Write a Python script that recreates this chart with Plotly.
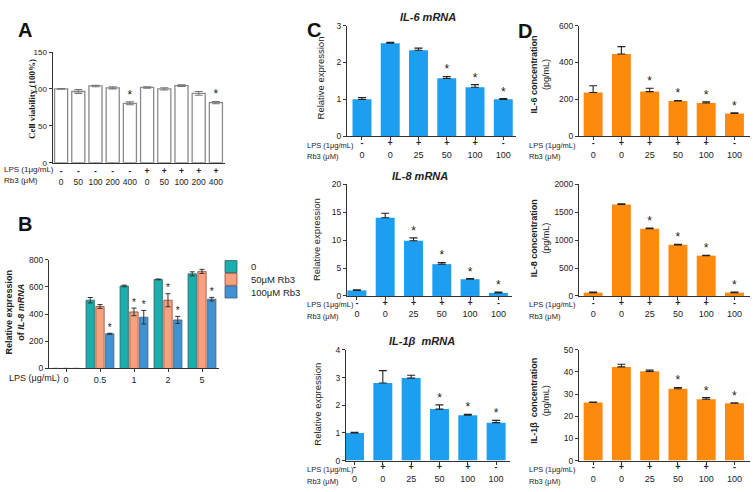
import plotly.graph_objects as go

W, H = 753, 492
def fx(p): return p / W
def fy(p): return 1 - p / H

FONT = "Arial, Liberation Sans, sans-serif"
TXT = "#222222"

# ---------------- Panel A data ----------------
A_lps = ["-", "-", "-", "-", "-", "+", "+", "+", "+", "+"]
A_rb3 = ["0", "50", "100", "200", "400", "0", "50", "100", "200", "400"]
A_val = [100, 96.5, 104, 101.5, 80.5, 102, 100, 104.5, 94, 81.5]
A_err = [0.5, 2.5, 1, 1.5, 2, 1, 1.5, 1, 2.5, 1.5]
A_sig = [0, 0, 0, 0, 1, 0, 0, 0, 0, 1]

# ---------------- Panel B data ----------------
B_lps = ["0", "0.5", "1", "2", "5"]
B_series = ["0", "50μM Rb3", "100μM Rb3"]
B_ctrl = [0, 502, 607, 655, 696]
B_ctrl_err = [0, 20, 6, 3, 15]
B_r50 = [0, 456, 416, 502, 714]
B_r50_err = [0, 14, 28, 48, 15]
B_r100 = [0, 255, 377, 357, 510]
B_r100_err = [0, 4, 50, 26, 13]
B_ctrl_sig = [0, 0, 0, 0, 0]
B_r50_sig = [0, 0, 1, 1, 0]
B_r100_sig = [0, 1, 1, 1, 1]

# ---------------- Panels C / D shared labels ----------------
CD_lps = ["-", "+", "+", "+", "+", "-"]
CD_rb3 = ["0", "0", "25", "50", "100", "100"]

C1_val = [1.0, 2.52, 2.33, 1.57, 1.33, 1.0]
C1_err = [0.05, 0.03, 0.06, 0.05, 0.07, 0.02]
C1_sig = [0, 0, 0, 1, 1, 1]

C2_val = [1.0, 14.0, 9.9, 5.7, 3.0, 0.55]
C2_err = [0.1, 0.8, 0.5, 0.3, 0.1, 0.15]
C2_sig = [0, 0, 1, 1, 1, 1]

C3_val = [1.0, 2.8, 2.98, 1.86, 1.64, 1.37]
C3_err = [0.02, 0.45, 0.1, 0.15, 0.03, 0.08]
C3_sig = [0, 0, 0, 1, 1, 1]

D1_val = [237, 446, 242, 191, 180, 124]
D1_err = [37, 40, 18, 3, 7, 3]
D1_sig = [0, 0, 1, 1, 1, 1]

D2_val = [60, 1640, 1205, 915, 722, 60]
D2_err = [8, 10, 10, 8, 6, 8]
D2_sig = [0, 0, 1, 1, 1, 1]

D3_val = [26.2, 42.3, 40.3, 32.4, 27.7, 25.9]
D3_err = [0.2, 1.2, 0.6, 0.6, 0.7, 0.2]
D3_sig = [0, 0, 0, 1, 1, 1]

# ---------------- styles ----------------
C_BLUE = "#1c9ff0"
D_ORANGE = "#fd8a0c"
B_COLORS = ["#1aafac", "#f7a17f", "#3f93d4"]
B_LINES = ["#2f5f5e", "#8a4a38", "#4a5d6e"]

fig = go.Figure()


def idx(n):
    return list(range(n))


def axis_pair(n, xpx, ypx, xr, yr, ytv, lps, rb3, xfont=9, yfont=8.5, ticklen=3, standoff=0):
    sx = "" if n == 1 else str(n)
    ticktext = [f"<b>{a}</b><br>{b}" for a, b in zip(lps, rb3)] if rb3 else list(lps)
    fig.update_layout(**{
        "xaxis" + sx: dict(domain=[fx(xpx[0]), fx(xpx[1])], range=xr, anchor="y" + sx,
                           showline=True, linecolor="#333", linewidth=1, ticks="outside" if ticklen else "",
                           ticklen=ticklen, tickcolor="#333", tickvals=idx(len(lps)), ticktext=ticktext,
                           ticklabelstandoff=standoff,
                           tickfont=dict(size=xfont, color=TXT, family=FONT), showgrid=False,
                           zeroline=False, fixedrange=True),
        "yaxis" + sx: dict(domain=[fy(ypx[0]), fy(ypx[1])], range=yr, anchor="x" + sx,
                           showline=True, linecolor="#333", linewidth=1, ticks="outside", ticklen=3,
                           tickcolor="#333", tickvals=ytv,
                           tickfont=dict(size=yfont, color=TXT, family=FONT), showgrid=False,
                           zeroline=False, fixedrange=True),
    })


def simple_bars(n, vals, errs, sigs, color, line_color, line_w, width, err_color, two_sided,
                star_size=12):
    sx = "" if n == 1 else str(n)
    x = idx(len(vals))
    fig.add_trace(go.Bar(
        x=x, y=vals, width=width, marker=dict(color=color, line=dict(color=line_color, width=line_w)),
        error_y=dict(type="data", array=errs, arrayminus=errs if two_sided else [0] * len(errs),
                     symmetric=False, color=err_color, thickness=1.1, width=4),
        xaxis="x" + sx, yaxis="y" + sx, showlegend=False, hoverinfo="skip"))
    fig.add_trace(go.Scatter(
        x=x, y=[v + e for v, e in zip(vals, errs)], text=["*" if s else "" for s in sigs],
        mode="text", textposition="top center", textfont=dict(size=star_size, color=TXT, family=FONT),
        xaxis="x" + sx, yaxis="y" + sx, showlegend=False, hoverinfo="skip", cliponaxis=False))


# ---------------- Panel A ----------------
axis_pair(1, (52.5, 224.5), (161, 48), [-0.5, 9.5], [0, 150], [0, 50, 100, 150],
          A_lps, A_rb3, xfont=8.5, yfont=8, ticklen=0)
simple_bars(1, A_val, A_err, A_sig, "white", "#8a8a8a", 1.3, 0.76, "#777", True, star_size=12)

# ---------------- Panel B ----------------
axis_pair(2, (49, 219), (371, 260), [-0.5, 4.5], [0, 800], [0, 200, 400, 600, 800],
          B_lps, None, xfont=9, yfont=8.5, ticklen=3)
B_vals = [B_ctrl, B_r50, B_r100]
B_errs = [B_ctrl_err, B_r50_err, B_r100_err]
B_sigs = [B_ctrl_sig, B_r50_sig, B_r100_sig]
B_offsets = [-0.41, -0.123, 0.164]
B_legends = ["legend", "legend2", "legend3"]
bw = 0.245
for k in range(3):
    fig.add_trace(go.Bar(
        x=idx(5), y=B_vals[k], width=bw, offset=B_offsets[k], name=B_series[k],
        marker=dict(color=B_COLORS[k], line=dict(color=B_LINES[k], width=0.8)),
        error_y=dict(type="data", array=B_errs[k], color="#333", thickness=1, width=2.5),
        xaxis="x2", yaxis="y2", showlegend=True, legend=B_legends[k], hoverinfo="skip"))
    fig.add_trace(go.Scatter(
        x=[i + B_offsets[k] + bw / 2 for i in idx(5)],
        y=[v + e for v, e in zip(B_vals[k], B_errs[k])],
        text=["*" if s else "" for s in B_sigs[k]], mode="text", textposition="top center",
        textfont=dict(size=10, color=TXT, family=FONT), xaxis="x2", yaxis="y2",
        showlegend=False, hoverinfo="skip", cliponaxis=False))

# ---------------- Panel C ----------------
SO = -5
axis_pair(3, (347, 516), (134, 21), [-0.53, 5.45], [0, 3], [0, 1, 2, 3], CD_lps, CD_rb3, standoff=SO)
simple_bars(3, C1_val, C1_err, C1_sig, C_BLUE, C_BLUE, 0, 0.67, "#222", False)
axis_pair(4, (347, 511.7), (297, 183), [-0.35, 5.47], [0, 20], [0, 5, 10, 15, 20], CD_lps, CD_rb3, standoff=SO)
simple_bars(4, C2_val, C2_err, C2_sig, C_BLUE, C_BLUE, 0, 0.67, "#222", False)
axis_pair(5, (346, 510), (465, 352), [-0.3, 5.49], [0, 4], [0, 1, 2, 3, 4], CD_lps, CD_rb3, standoff=SO)
simple_bars(5, C3_val, C3_err, C3_sig, C_BLUE, C_BLUE, 0, 0.67, "#222", False)

# ---------------- Panel D ----------------
axis_pair(6, (579, 750), (134, 21), [-0.5, 5.55], [0, 600], [0, 200, 400, 600], CD_lps, CD_rb3, standoff=SO)
simple_bars(6, D1_val, D1_err, D1_sig, D_ORANGE, D_ORANGE, 0, 0.67, "#222", False)
axis_pair(7, (579, 750), (297, 183), [-0.5, 5.55], [0, 2000], [0, 500, 1000, 1500, 2000], CD_lps, CD_rb3, standoff=SO)
simple_bars(7, D2_val, D2_err, D2_sig, D_ORANGE, D_ORANGE, 0, 0.67, "#222", False)
axis_pair(8, (579, 750), (465, 352), [-0.5, 5.55], [0, 50], [0, 10, 20, 30, 40, 50], CD_lps, CD_rb3, standoff=SO)
simple_bars(8, D3_val, D3_err, D3_sig, D_ORANGE, D_ORANGE, 0, 0.67, "#222", False)

# ---------------- annotations ----------------
ann = []


def text(t, xp, yp, size=9, xanchor="center", yanchor="middle", angle=0, family=FONT, color=TXT):
    ann.append(dict(text=t, x=fx(xp), y=fy(yp), xref="paper", yref="paper", showarrow=False,
                    xanchor=xanchor, yanchor=yanchor, textangle=angle,
                    font=dict(size=size, family=family, color=color)))


# panel letters
for letter, xp, yp in [("A", 24.5, 25.5), ("B", 25, 224), ("C", 314, 26), ("D", 525, 27)]:
    text(f"<b>{letter}</b>", xp, yp, size=20, color="#111")

# subplot titles
text("<b><i>IL-6 mRNA</i></b>", 428, 12, size=11)
text("<b><i>IL-8 mRNA</i></b>", 420, 175, size=11)
text("<b><i>IL-1β  mRNA</i></b>", 422, 343, size=11)

# y-axis titles
text("<b>Cell viability (100%)</b>", 32, 96, size=9,
     angle=-90, family="Liberation Serif, Times New Roman, serif")
text("<b>Relative expression<br>of <i>IL-8 mRNA</i></b>", 15, 314, size=9, angle=-90)
text("Relative expression", 320, 75, size=9.5, angle=-90)
text("Relative expression", 316, 240, size=9.5, angle=-90)
text("Relative expression", 318, 408, size=9.5, angle=-90)
text("<b>IL-6 concentration</b><br>(pg/mL)", 540, 71, size=9, angle=-90)
text("<b>IL-8 concentration</b><br>(pg/mL)", 540, 238, size=9, angle=-90)
text("<b>IL-1β  concentration</b><br>(pg/mL)", 540, 404, size=9, angle=-90)

# row labels
text("LPS (1μg/mL)", 2, 168, size=8, xanchor="left")
text("Rb3 (μM)", 2, 179, size=8, xanchor="left")
text("LPS (μg/mL)", 7, 381, size=9, xanchor="left")
for xl, base in [(305, 134), (305, 297), (305, 465), (527, 134), (527, 297), (527, 465)]:
    text("LPS (1μg/mL)", xl, base + 9, size=7.5, xanchor="left")
    text("Rb3 (μM)", xl, base + 21, size=7.5, xanchor="left")

legend_common = dict(xanchor="left", yanchor="middle", font=dict(size=9.5, family=FONT, color=TXT),
                     bgcolor="rgba(0,0,0,0)", itemwidth=30)
fig.update_layout(
    width=W, height=H, margin=dict(l=0, r=0, t=0, b=0),
    paper_bgcolor="white", plot_bgcolor="white",
    barmode="overlay",
    font=dict(family=FONT, color=TXT),
    annotations=ann,
    legend=dict(x=fx(211), y=fy(267), **legend_common),
    legend2=dict(x=fx(211), y=fy(280), **legend_common),
    legend3=dict(x=fx(211), y=fy(293), **legend_common),
)

fig.write_html("out.html", config={"displayModeBar": False},
               post_script="document.body.style.margin='0';document.body.style.padding='0';")
